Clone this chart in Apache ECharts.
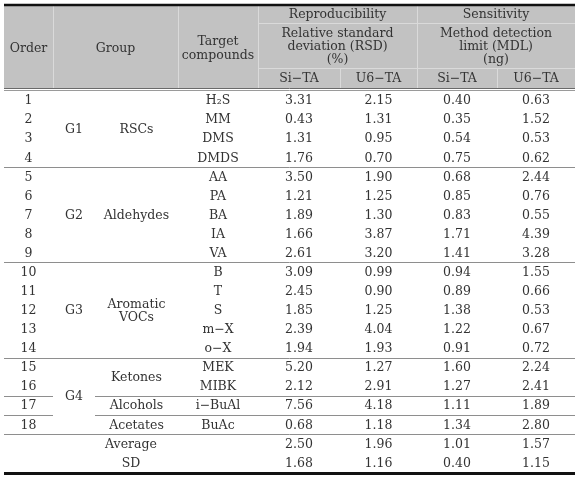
<!DOCTYPE html>
<html><head><meta charset="utf-8">
<script src="https://cdn.jsdelivr.net/npm/echarts@6/dist/echarts.min.js"></script>
<style>html,body{margin:0;padding:0;background:#fff}#c{width:583px;height:481px}</style>
</head><body><div id="c"></div>
<script>
// ---- data ----
const orders = ['1','2','3','4','5','6','7','8','9','10','11','12','13','14','15','16','17','18'];
const groupCodes = ['G1','G2','G3','G4'];
const groupCodeSpans = [[0,4],[4,9],[9,14],[14,18]];
const groupNames = ['RSCs','Aldehydes','Aromatic\nVOCs','Ketones','Alcohols','Acetates'];
const groupNameSpans = [[0,4],[4,9],[9,14],[14,16],[16,17],[17,18]];
const targets = ['H₂S','MM','DMS','DMDS','AA','PA','BA','IA','VA','B','T','S','m−X','o−X','MEK','MIBK','i−BuAl','BuAc'];
const rsdSi = [3.31,0.43,1.31,1.76,3.50,1.21,1.89,1.66,2.61,3.09,2.45,1.85,2.39,1.94,5.20,2.12,7.56,0.68];
const rsdU6 = [2.15,1.31,0.95,0.70,1.90,1.25,1.30,3.87,3.20,0.99,0.90,1.25,4.04,1.93,1.27,2.91,4.18,1.18];
const mdlSi = [0.40,0.35,0.54,0.75,0.68,0.85,0.83,1.71,1.41,0.94,0.89,1.38,1.22,0.91,1.60,1.27,1.11,1.34];
const mdlU6 = [0.63,1.52,0.53,0.62,2.44,0.76,0.55,4.39,3.28,1.55,0.66,0.53,0.67,0.72,2.24,2.41,1.89,2.80];
const summaryLabels = ['Average','SD'];
const summaryRsdSi = [2.50,1.68];
const summaryRsdU6 = [1.96,1.16];
const summaryMdlSi = [1.01,0.40];
const summaryMdlU6 = [1.57,1.15];
const headerTop = ['Order','Group','Target\ncompounds','Reproducibility','Sensitivity'];
const headerSub = ['Relative standard\ndeviation (RSD)\n(%)','Method detection\nlimit (MDL)\n(ng)'];
const methods = ['Si−TA','U6−TA'];

// ---- layout ----
const L = 4, W = 571, TOP = 90.5, BOT = 472;
const FONT = '12.5px "DejaVu Serif"';
const TXT = '#333333';
const TY = 1; // text vertical nudge
const col = {order:[0,49], gcode:[49,91], gname:[91,174], target:[174,254],
  rsdSi:[254,336], rsdU6:[336,413], mdlSi:[413,493], mdlU6:[493,571]};
const mid = c => (c[0]+c[1])/2;
const nRows = orders.length + summaryLabels.length;

const cells = [];
orders.forEach((o,i)=>cells.push({x:mid(col.order), y:i+0.5, t:o}));
groupCodes.forEach((g,i)=>cells.push({x:mid(col.gcode), y:(groupCodeSpans[i][0]+groupCodeSpans[i][1])/2, t:g}));
groupNames.forEach((g,i)=>cells.push({x:mid(col.gname), y:(groupNameSpans[i][0]+groupNameSpans[i][1])/2, t:g}));
targets.forEach((t,i)=>cells.push({x:mid(col.target), y:i+0.5, t:t}));
[[rsdSi,summaryRsdSi,col.rsdSi],[rsdU6,summaryRsdU6,col.rsdU6],[mdlSi,summaryMdlSi,col.mdlSi],[mdlU6,summaryMdlU6,col.mdlU6]].forEach(([a,s,c])=>{
  a.forEach((v,i)=>cells.push({x:mid(c), y:i+0.5, t:v.toFixed(2)}));
  s.forEach((v,i)=>cells.push({x:mid(c), y:orders.length+i+0.5, t:v.toFixed(2)}));
});
summaryLabels.forEach((s,i)=>cells.push({x:(col.order[0]+col.target[1])/2, y:orders.length+i+0.5, t:s}));

// body rules: [x1,x2,rowBoundary]
const rules = [];
[4,9,14,18].forEach(r=>rules.push([0,W,r]));
[16,17].forEach(r=>{rules.push([col.order[0],col.order[1],r]); rules.push([col.gname[0],W,r]);});

const chart = echarts.init(document.getElementById('c'), null, {renderer:'canvas'});
const hx = v => L + v;
const hText = (t,x,y,lh)=>({type:'text', x:x, y:y, style:{text:t, font:FONT, fill:TXT, align:'center', verticalAlign:'middle', lineHeight:lh||13}});
const hLine = (x1,y1,x2,y2,c,w)=>({type:'line', shape:{x1,y1,x2,y2}, style:{stroke:c, lineWidth:w||1}});
const SEP = '#dadada';
chart.setOption({
  animation:false,
  grid:{left:L, top:TOP, width:W, height:BOT-TOP},
  xAxis:{type:'value', min:0, max:W, show:false},
  yAxis:{type:'value', min:0, max:nRows, inverse:true, show:false},
  graphic:[
    {type:'rect', shape:{x:L, y:6, width:W, height:82}, style:{fill:'#c2c2c2'}},
    hLine(hx(col.order[1])+0.5,6,hx(col.order[1])+0.5,88,SEP),
    hLine(hx(col.gname[1])+0.5,6,hx(col.gname[1])+0.5,88,SEP),
    hLine(hx(col.target[1])+0.5,6,hx(col.target[1])+0.5,88,SEP),
    hLine(hx(col.rsdU6[1])+0.5,6,hx(col.rsdU6[1])+0.5,88,SEP),
    hLine(hx(col.target[1]),23.5,L+W,23.5,SEP),
    hLine(hx(col.target[1]),68.5,L+W,68.5,SEP),
    hLine(hx(col.rsdSi[1])+0.5,69,hx(col.rsdSi[1])+0.5,88,SEP),
    hLine(hx(col.mdlSi[1])+0.5,69,hx(col.mdlSi[1])+0.5,88,SEP),
    hLine(L,5,L+W,5,'#111',2.5),
    hLine(L,88.5,L+W,88.5,'#6a6a6a',1),
    hLine(L,90.5,L+W,90.5,'#9a9a9a',1),
    hLine(L,473.5,L+W,473.5,'#111',3),
    hText(headerTop[0], hx(mid(col.order)), 49),
    hText(headerTop[1], hx((col.gcode[0]+col.gname[1])/2), 49),
    hText(headerTop[2], hx(mid(col.target)), 49, 14),
    hText(headerTop[3], hx((col.rsdSi[0]+col.rsdU6[1])/2), 15),
    hText(headerTop[4], hx((col.mdlSi[0]+col.mdlU6[1])/2), 15),
    hText(headerSub[0], hx((col.rsdSi[0]+col.rsdU6[1])/2), 46.5, 13),
    hText(headerSub[1], hx((col.mdlSi[0]+col.mdlU6[1])/2), 46.5, 13),
    hText(methods[0], hx(mid(col.rsdSi)), 79),
    hText(methods[1], hx(mid(col.rsdU6)), 79),
    hText(methods[0], hx(mid(col.mdlSi)), 79),
    hText(methods[1], hx(mid(col.mdlU6)), 79)
  ],
  series:[
    {type:'custom', coordinateSystem:'cartesian2d', clip:false, silent:true,
     data: rules.map(r=>[r[0],r[1],r[2]]),
     renderItem:(params,api)=>{
       const p1 = api.coord([api.value(0), api.value(2)]);
       const p2 = api.coord([api.value(1), api.value(2)]);
       const y = Math.round(p1[1])+0.5;
       return {type:'line', shape:{x1:p1[0], y1:y, x2:p2[0], y2:y}, style:{stroke:'#8e8e8e', lineWidth:1}};
     }},
    {type:'custom', coordinateSystem:'cartesian2d', clip:false, silent:true,
     data: cells.map(c=>[c.x,c.y]),
     renderItem:(params,api)=>{
       const p = api.coord([api.value(0), api.value(1)]);
       return {type:'text', x:p[0], y:p[1]+TY, style:{text:cells[params.dataIndex].t, font:FONT, fill:TXT, align:'center', verticalAlign:'middle', lineHeight:13}};
     }}
  ]
});
</script>
</body></html>
